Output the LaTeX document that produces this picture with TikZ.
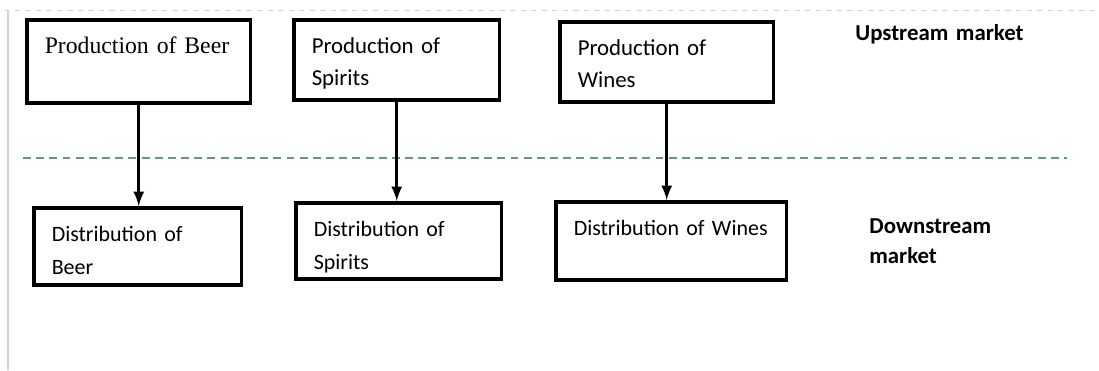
\documentclass[tikz,border=0pt]{standalone}
\usepackage{fontspec}
\setmainfont{Carlito}
\newfontfamily\beerfont{Liberation Serif}
\usetikzlibrary{arrows}
\definecolor{divideGreen}{RGB}{105,150,118}

\begin{document}
\begin{tikzpicture}[x = 0.02cm, y = -0.02cm, font = \fontsize{13}{18}\selectfont]
	\tikzstyle{boxStyle} = [draw, line width = 2pt, anchor = north west, align = left, inner xsep = 0.36cm, inner ysep = 0pt, text height = 0.68cm]
	\tikzstyle{lowStyle} = [boxStyle, font = \fontsize{12.5}{18.5}\selectfont]
	\tikzstyle{marketStyle} = [anchor = base west, align = left, inner sep = 0pt, text width = 4cm, font = \fontsize{13}{17.5}\selectfont\bfseries]
	\tikzstyle{arrowStyle} = [-latex, line width = 1.8pt]
	\useasboundingbox (0,0) rectangle (1099,370);
	% page frame
	\draw[gray!35, dashed] (4,10) -- (1095,10);
	\draw[gray!35, line width = 0.8pt] (8,10) -- (8,370);
	% divide between the two markets
	\draw[color = divideGreen, dash pattern = on 4.5pt off 3pt, line width = 0.7pt] (23,158) -- (1067,158);
	\node[boxStyle, text width = 3.76cm, text depth = 0.98cm, font = \beerfont\fontsize{13.5}{18}\selectfont] (p1) at (25,18) {Production of Beer};
	\node[boxStyle, text width = 3.40cm, text depth = 0.92cm] (p2) at (292,18) {Production of\\Spirits};
	\node[boxStyle, text width = 3.56cm, text depth = 0.92cm] (p3) at (558,20) {Production of\\Wines};
	\node[lowStyle, text width = 3.44cm, text depth = 0.86cm] (d1) at (32,206) {Distribution of\\Beer};
	\node[lowStyle, text width = 3.40cm, text depth = 0.84cm] (d2) at (294,201) {Distribution of\\Spirits};
	\node[lowStyle, text width = 3.90cm, text depth = 0.88cm] (d3) at (554,200) {Distribution of Wines};
	\node[marketStyle] (up) at (855,40) {Upstream market};
	\node[marketStyle] (down) at (869,233) {Downstream\\market};
	\draw[arrowStyle] (p1.south) -- (p1.south |- d1.north);
	\draw[arrowStyle] (p2.south) -- (p2.south |- d2.north);
	\draw[arrowStyle] (p3.south) -- (p3.south |- d3.north);
\end{tikzpicture}
\end{document}
